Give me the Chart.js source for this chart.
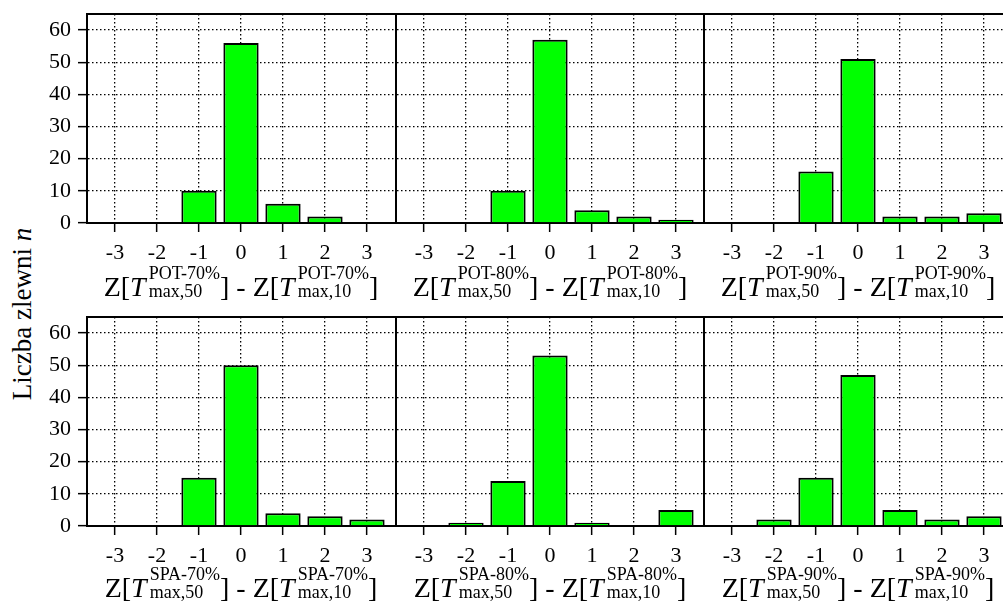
<!DOCTYPE html>
<html>
<head>
<meta charset="utf-8">
<script src="https://cdn.jsdelivr.net/npm/chart.js@4.4.1/dist/chart.umd.min.js"></script>
<style>
  html, body { margin: 0; padding: 0; background: #fff; }
  #page { position: relative; width: 1003px; height: 605px; overflow: hidden; background: #fff; }
  canvas { position: absolute; }
  .xtitle {
    position: absolute; text-align: center; white-space: nowrap;
    font-family: 'Liberation Serif', serif; font-size: 28px; line-height: 34px; color: #000;
  }
  .xtitle i { font-style: italic; }
  .ss { display: inline-block; font-size: 18px; line-height: 18px; text-align: left; margin-left: 3px; position: relative; top: 1px; }
  .ss span { display: block; }
  #ytitle {
    position: absolute; left: 22px; top: 314px; white-space: nowrap;
    transform: translate(-50%, -50%) rotate(-90deg);
    font-family: 'Liberation Serif', serif; font-size: 27px; color: #000;
  }
</style>
</head>
<body>
<div id="page">
  <div id="ytitle">Liczba zlewni <i>n</i></div>
</div>
<script>
// difference classes on the x axis
const categories = [-3, -2, -1, 0, 1, 2, 3];
const yTicks = [0, 10, 20, 30, 40, 50, 60];

// counts of catchments per class
const pot70 = [0, 0, 10, 56, 6, 2, 0];
const pot80 = [0, 0, 10, 57, 4, 2, 1];
const pot90 = [0, 0, 16, 51, 2, 2, 3];
const spa70 = [0, 0, 15, 50, 4, 3, 2];
const spa80 = [0, 1, 14, 53, 1, 0, 5];
const spa90 = [0, 2, 15, 47, 5, 2, 3];

const panelSeries = [[pot70, pot80, pot90], [spa70, spa80, spa90]];
const panelLabels = [['POT-70%', 'POT-80%', 'POT-90%'], ['SPA-70%', 'SPA-80%', 'SPA-90%']];

// layout of the 2x3 grid (page pixels)
const colLeft = [87, 396, 704];
const rowTop = [14, 317];
const plotW = 308;
const plotH = 209;
const padT = 24;
const padR = 16;
const xAxisH = 44;

const font = { family: "'Liberation Serif', serif", size: 22 };

const topBorder = {
  id: 'topBorder',
  afterDraw(chart) {
    const { ctx, chartArea: a } = chart;
    ctx.save();
    ctx.strokeStyle = '#000';
    ctx.lineWidth = 2;
    ctx.beginPath();
    ctx.moveTo(a.left - 1, a.top);
    ctx.lineTo(a.right + 1, a.top);
    ctx.stroke();
    ctx.restore();
  }
};

const page = document.getElementById('page');

function makePanel(r, c) {
  const padL = c === 0 ? 87 : 16;
  const canvas = document.createElement('canvas');
  canvas.width = padL + plotW + padR;
  canvas.height = padT + plotH + xAxisH;
  canvas.style.left = (colLeft[c] - padL) + 'px';
  canvas.style.top = (rowTop[r] - padT) + 'px';
  page.appendChild(canvas);

  const values = panelSeries[r][c];
  new Chart(canvas.getContext('2d'), {
    type: 'bar',
    data: {
      datasets: [{
        data: categories.map((x, i) => ({ x: x, y: values[i] })),
        backgroundColor: '#00ff00',
        borderColor: '#000',
        borderWidth: 2,
        borderSkipped: 'start',
        categoryPercentage: 1,
        barPercentage: 0.84,
      }],
    },
    options: {
      responsive: false,
      animation: false,
      layout: { padding: { top: padT, right: padR, left: 0, bottom: 0 } },
      plugins: { legend: { display: false }, tooltip: { enabled: false } },
      scales: {
        x: {
          type: 'linear',
          offset: false,
          min: -3.667,
          max: 3.667,
          afterBuildTicks: s => { s.ticks = categories.map(v => ({ value: v })); },
          afterFit: s => { s.height = xAxisH; },
          ticks: { color: '#000', font: font, padding: 8, maxRotation: 0 },
          grid: { offset: false, color: '#000', lineWidth: 1.3, tickLength: 9, tickColor: '#000', tickWidth: 1.5 },
          border: { display: true, color: '#000', width: 2, dash: [1.5, 2.5] },
        },
        y: {
          min: 0,
          max: 65,
          afterBuildTicks: s => { s.ticks = yTicks.map(v => ({ value: v })); },
          afterFit: s => { s.width = padL; },
          ticks: { display: c === 0, color: '#000', font: font, padding: 7 },
          grid: { color: '#000', lineWidth: 1.3, drawTicks: c === 0, tickLength: 9, tickColor: '#000', tickWidth: 1.5 },
          border: { display: true, color: '#000', width: 2, dash: [1.5, 2.5] },
        },
      },
    },
    plugins: [topBorder],
  });

  // axis title below the panel, with stacked super/subscripts
  const lab = panelLabels[r][c];
  const t = document.createElement('div');
  t.className = 'xtitle';
  t.style.left = colLeft[c] + 'px';
  t.style.width = plotW + 'px';
  t.style.top = (r === 0 ? 263 : 564) + 'px';
  t.innerHTML =
    'Z[<i>T</i><span class="ss"><span>' + lab + '</span><span>max,50</span></span>] - ' +
    'Z[<i>T</i><span class="ss"><span>' + lab + '</span><span>max,10</span></span>]';
  page.appendChild(t);
}

for (let r = 0; r < 2; r++) {
  for (let c = 0; c < 3; c++) makePanel(r, c);
}
</script>
</body>
</html>
